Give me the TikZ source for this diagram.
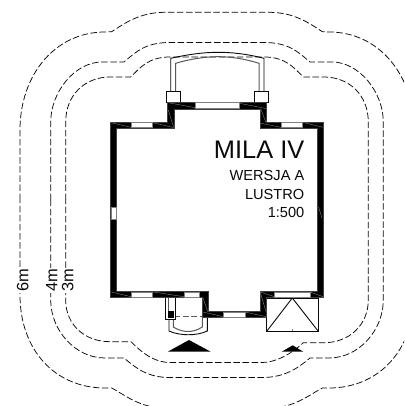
\documentclass[tikz,border=0pt]{standalone}
\usepackage{fontspec}
\setmainfont{Liberation Sans}
\definecolor{ink}{gray}{0.04}
\definecolor{edge}{gray}{0.5}
\tikzset{
  zone/.style={draw=ink,line width=0.75pt,dash pattern=on 6.5pt off 2.6pt},
  wallring/.style={fill=black,even odd rule,draw=black!75,line width=0.9pt},
  winbox/.style={fill=white,draw=edge,line width=0.9pt},
  joint/.style={draw=edge,line width=0.4pt},
  thinline/.style={draw=ink,line width=0.9pt},
  greyline/.style={draw=edge!70!black,line width=1pt},
  distlabel/.style={fill=white,inner sep=1.2pt,anchor=base,rotate=90,font=\fontsize{16.4}{16}\selectfont,text=ink},
  tag/.style={anchor=base east,inner sep=0pt,text=ink}
}
\begin{document}
\begin{tikzpicture}[x=1pt,y=-1pt]
\useasboundingbox (0,0) rectangle (404,406);
\clip (0,0) rectangle (404,406);
\fill[white] (0,0) rectangle (404,406);
% distance lines
\draw[zone] (65.7,200) -- (65.7,122) .. controls (65.7,95) and (85,77) .. (110,77) -- (130.7,77)
  .. controls (140,68) and (148,57) .. (170,57) -- (264,57)
  .. controls (286,57) and (294,68) .. (303.3,77) -- (324,77)
  .. controls (349,77) and (368.3,95) .. (368.3,122) -- (368.3,300)
  .. controls (368.3,325) and (349,342.7) .. (324,342.7) -- (303.3,342.7)
  .. controls (290,355) and (275,362.5) .. (262,362.5) -- (170,362.5)
  .. controls (157,362.5) and (145,356) .. (131,341.7) -- (110,341.7)
  .. controls (85,341.7) and (65.7,325) .. (65.7,300) -- cycle;
\draw[zone] (50.7,200) -- (50.7,122) .. controls (50.7,92) and (75,62) .. (102,62) -- (124,62)
  .. controls (136,52) and (145,42.5) .. (170,42.5) -- (264,42.5)
  .. controls (289,42.5) and (298,52) .. (310,62) -- (332,62)
  .. controls (359,62) and (383.3,92) .. (383.3,122) -- (383.3,300)
  .. controls (383.3,330) and (359,358) .. (329,358) -- (310,358)
  .. controls (298,368) and (285,377.5) .. (262,377.5) -- (170,377.5)
  .. controls (147,377.5) and (136,368) .. (124,358) -- (105,358)
  .. controls (75,358) and (50.7,330) .. (50.7,300) -- cycle;
\draw[zone] (20,200) -- (20,130) .. controls (20,75) and (55,32) .. (105,32) -- (111.7,31.7)
  .. controls (125,23) and (140,12.3) .. (165,12.3) -- (269,12.3)
  .. controls (294,12.3) and (309,23) .. (322.3,31.7) -- (329,32)
  .. controls (379,32) and (414,75) .. (414,130) -- (414,295)
  .. controls (414,350) and (379,388) .. (329,388) -- (322.3,388)
  .. controls (309,395) and (294,408) .. (269,408) -- (165,408)
  .. controls (140,408) and (125,395) .. (111.7,388) -- (105,388)
  .. controls (55,388) and (20,350) .. (20,295) -- cycle;
% labels on the distance lines
\node[distlabel] (six) at (28.3,280.5) {6m};
\node[distlabel] (four) at (57.3,280.5) {4m};
\node[distlabel] (three) at (73.3,280.5) {3m};
% porch at the top
\draw[thinline] (170.7,91) -- (170.7,58.3) .. controls (190,54) and (205,52.3) .. (218.3,52.3)
  .. controls (232,52.3) and (247,54) .. (264,58.3) -- (264,91);
\draw[greyline] (175.7,91) -- (175.7,63.3) .. controls (190,59) and (205,56.7) .. (218,56.7)
  .. controls (232,56.7) and (245,59) .. (259,63.3) -- (259,91);
\draw[thinline,fill=white] (166,91) rectangle (180,102.3);
\draw[thinline,fill=white] (254.3,91) rectangle (268.3,102.3);
% terrace at the bottom right
\draw[thinline,fill=white] (266.7,298) rectangle (318.3,331.3);
\draw[thinline] (266.7,331.3) -- (292.3,298) -- (318.3,331.3);
\draw[edge,line width=0.6pt] (292.3,329) -- (292.3,331.3);
% entrance at the bottom left
\draw[thinline] (169,319.3) -- (169,331) .. controls (180,336) and (197,336) .. (207.3,331) -- (207.3,317.7);
\draw[greyline] (173.3,319.3) -- (173.3,327) .. controls (183,333) and (193,333) .. (202.3,327) -- (202.3,317.7);
\draw[draw=edge!70!black,line width=0.9pt,dash pattern=on 6pt off 2.5pt] (174,316.5) -- (203,316.5);
\draw[thinline,fill=white] (165.7,297) rectangle (175.7,319.3);
\draw[greyline,line width=0.6pt] (168.3,297) -- (168.3,311);
\fill[black] (168.3,311) rectangle (174,317.7);
% walls
\path[wallring]
  (110.7,122.3) -- (167,122.3) -- (167,102.3) -- (266.7,102.3) -- (266.7,122.3) -- (323.3,122.3)
  -- (323.3,297.7) -- (266.3,297.7) -- (266.3,317.7) -- (202.7,317.7) -- (202.7,297.7) -- (110.7,297.7) -- cycle
  (116.7,128.3) -- (174,128.3) -- (174,109) -- (260,109) -- (260,128.3) -- (317.7,128.3)
  -- (317.7,291.7) -- (260,291.7) -- (260,311.7) -- (208.7,311.7) -- (208.7,291.7) -- (116.7,291.7) -- cycle;
% windows
\draw[winbox] (131,122.8) rectangle (152.7,127.8);
\draw[winbox] (195,102.8) rectangle (239.3,108.6);
\draw[winbox] (281,122.8) rectangle (302.7,127.8);
\draw[winbox] (131,292.2) rectangle (152.7,297.2);
\draw[winbox] (184,292.2) rectangle (199.3,297.2);
\draw[winbox] (274.3,292.2) rectangle (310,297.2);
\draw[winbox] (223.3,312.2) rectangle (245,317.2);
\draw[winbox] (111.2,207.3) rectangle (116.7,219.3);
% joints in the walls
\draw[joint] (111,122.7) -- (131,127.3);
\draw[joint] (152.7,122.7) -- (173.5,127.5);
\draw[joint] (168.3,102.7) -- (195,107.7);
\draw[joint] (239.3,103.3) -- (266,108.5);
\draw[joint] (168.3,110) -- (173.5,127);
\draw[joint] (260.7,109) -- (266,122.5);
\draw[joint] (260.7,123.3) -- (281,127.3);
\draw[joint] (303.3,122.5) -- (323,127.3);
\draw[joint] (318.5,207) -- (322,218);
\draw[joint] (111,291.9) -- (131,296.7);
\draw[joint] (153.3,292) -- (184,296.7);
\draw[joint] (202.7,297) -- (207.8,311.7);
\draw[joint] (202.9,312) -- (223.3,316.7);
\draw[joint] (245,312) -- (266,316.7);
\draw[joint] (260.2,292) -- (266,311.7);
\draw[joint] (260.2,292) -- (274.3,296.7);
\draw[joint] (310,292) -- (323.1,296.7);
% entrance arrows
\fill[black] (189,340) -- (210.7,351.7) -- (167.7,351.7) -- cycle;
\fill[black] (292.7,345.3) -- (303.3,351.7) -- (281.7,351.7) -- cycle;
% title
\node[tag,font=\fontsize{25.4}{25.4}\selectfont] (title) at (304.5,158.3) {MILA IV};
\node[tag,font=\fontsize{14.6}{14.6}\selectfont] (version) at (304.5,180) {WERSJA A};
\node[tag,font=\fontsize{14.6}{14.6}\selectfont] (mirror) at (304.5,199) {LUSTRO};
\node[tag,font=\fontsize{14.6}{14.6}\selectfont] (scale) at (304.5,217.3) {1:500};
\end{tikzpicture}
\end{document}
